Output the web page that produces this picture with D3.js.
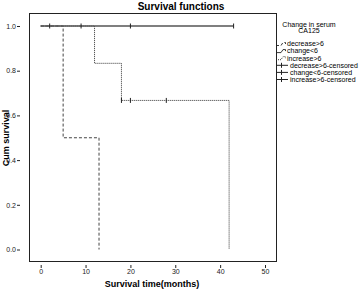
<!DOCTYPE html>
<html>
<head>
<meta charset="utf-8">
<script src="https://cdn.jsdelivr.net/npm/d3@7"></script>
<style>
  body { margin: 0; background: #fff; }
  svg { font-family: "Liberation Sans", Arial, sans-serif; }
</style>
</head>
<body>
<svg id="chart" width="359" height="291"></svg>
<script>
// 群ごとの生存曲線 (時間, 累積生存率)
const groups = ["decrease>6", "change<6", "increase>6"];
const decreaseSteps = [[0, 1], [5, 0.5], [13, 0]];
const changeSteps = [[0, 1], [43, 1]];
const increaseSteps = [[0, 1], [12, 0.833], [18, 0.667], [42, 0]];
// 打ち切り
const decreaseCensored = [];
const changeCensored = [[2, 1], [9, 1], [20, 1], [43, 1]];
const increaseCensored = [[18, 0.667], [20, 0.667], [28, 0.667]];

const xTicks = [0, 10, 20, 30, 40, 50];
const yTicks = [0, 0.2, 0.4, 0.6, 0.8, 1.0];

const svg = d3.select("#chart");

const x = d3.scaleLinear().domain([0, 50]).range([40.7, 265]);
const y = d3.scaleLinear().domain([0, 1]).range([249.5, 26]);

// 枠
svg.append("rect")
    .attr("x", 29.5).attr("y", 13.5)
    .attr("width", 247).attr("height", 248)
    .attr("fill", "none").attr("stroke", "#222").attr("stroke-width", 1);

// 軸
const yAxis = svg.append("g")
    .attr("transform", "translate(20,0)")
    .call(d3.axisLeft(y).tickValues(yTicks).tickFormat(d3.format(".1f")).tickSize(3).tickPadding(1));
const xAxis = svg.append("g")
    .attr("transform", "translate(0,265)")
    .call(d3.axisBottom(x).tickValues(xTicks).tickSize(3).tickPadding(1));
[yAxis, xAxis].forEach((a) => {
    a.select(".domain").remove();
    a.selectAll("text").attr("font-size", 7).attr("fill", "#222").attr("font-family", "Liberation Sans, Arial, sans-serif");
    a.selectAll("line").attr("stroke", "#222");
});

// 曲線
const line = d3.line().x((d) => x(d[0])).y((d) => y(d[1])).curve(d3.curveStepAfter);
const series = [
    { steps: decreaseSteps, cens: decreaseCensored, dash: "3,2", color: "#444", width: 1 },
    { steps: increaseSteps, cens: increaseCensored, dash: "1,1", color: "#333", width: 1 },
    { steps: changeSteps, cens: changeCensored, dash: null, color: "#555", width: 1.5 }
];
series.forEach((s) => {
    svg.append("path")
        .datum(s.steps)
        .attr("d", line)
        .attr("fill", "none")
        .attr("stroke", s.color)
        .attr("stroke-width", s.width)
        .attr("stroke-dasharray", s.dash);
    svg.append("g")
        .selectAll("line")
        .data(s.cens)
        .enter()
        .append("line")
        .attr("x1", (d) => x(d[0])).attr("x2", (d) => x(d[0]))
        .attr("y1", (d) => y(d[1]) - 2.5).attr("y2", (d) => y(d[1]) + 2.5)
        .attr("stroke", "#222").attr("stroke-width", 1);
});

// タイトル・軸ラベル
svg.append("text").attr("x", 181).attr("y", 10).attr("text-anchor", "middle")
    .attr("font-size", 10).attr("font-weight", "bold").text("Survival functions");
svg.append("text").attr("transform", "translate(9,138) rotate(-90)").attr("text-anchor", "middle")
    .attr("font-size", 9).attr("font-weight", "bold").text("Cum survival");
svg.append("text").attr("x", 152).attr("y", 287).attr("text-anchor", "middle")
    .attr("font-size", 9).attr("font-weight", "bold").text("Survival time(months)");

// 凡例
const legend = svg.append("g").attr("font-size", 7);
legend.append("text").attr("x", 309).attr("y", 27).attr("text-anchor", "middle").attr("fill", "#000").text("Change in serum");
legend.append("text").attr("x", 309).attr("y", 33).attr("text-anchor", "middle").attr("fill", "#000").text("CA125");
const dashes = [series[0].dash, series[2].dash, series[1].dash];
const legendItems = groups.map((g, i) => ({ label: g, kind: "step", dash: dashes[i] }))
    .concat(groups.map((g) => ({ label: g + "-censored", kind: "cens" })));
const rowY = d3.scaleLinear().domain([0, 1]).range([44, 51.1]);
legendItems.forEach((d, i) => {
    const cy = rowY(i);
    const gItem = legend.append("g");
    if (d.kind === "step") {
        gItem.append("path")
            .attr("d", `M276,${cy + 1.5}H281L283,${cy - 1.5}H285.5V${cy}`)
            .attr("fill", "none").attr("stroke", "#222").attr("stroke-width", 0.9)
            .attr("stroke-dasharray", d.dash);
        gItem.append("text").attr("x", 287).attr("y", cy + 2.3).attr("fill", "#000").text(d.label);
    } else {
        gItem.append("line").attr("x1", 276).attr("x2", 288).attr("y1", cy).attr("y2", cy).attr("stroke", "#222");
        gItem.append("line").attr("x1", 281.5).attr("x2", 281.5).attr("y1", cy - 2.5).attr("y2", cy + 2.5).attr("stroke", "#222");
        gItem.append("text").attr("x", 290).attr("y", cy + 2.3).attr("fill", "#000").text(d.label);
    }
});
</script>
</body>
</html>
